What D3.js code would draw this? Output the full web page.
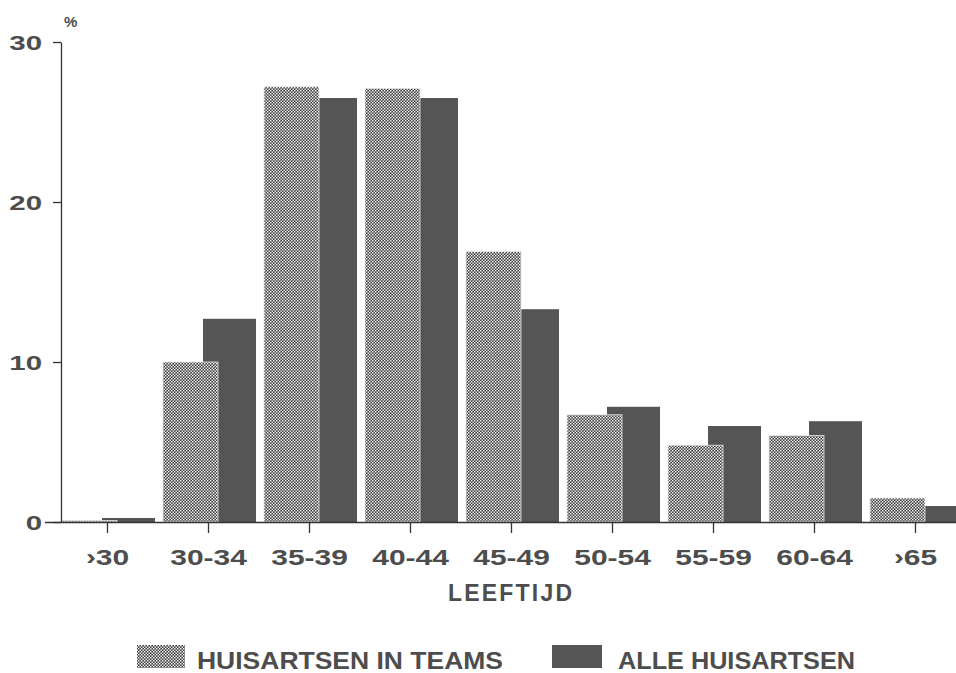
<!DOCTYPE html>
<html><head><meta charset="utf-8">
<script src="https://cdn.jsdelivr.net/npm/d3@7"></script>
<style>body{margin:0;background:#fff}svg{display:block}text{font-family:"Liberation Sans",Arial,sans-serif;font-weight:bold;fill:#4d4d4d}</style>
</head><body><svg id="c" width="956" height="673"></svg>
<script>
const categories = ["›30","30-34","35-39","40-44","45-49","50-54","55-59","60-64","›65"];
const teams = [0.1,10,27.2,27.1,16.9,6.7,4.8,5.4,1.5];
const alle = [0.25,12.7,26.5,26.5,13.3,7.2,6.0,6.3,1.0];
const yTicks = [0,10,20,30];
const seriesNames = ["HUISARTSEN IN TEAMS","ALLE HUISARTSEN"];

const svg = d3.select("#c");
const defs = svg.append("defs");
const pat = defs.append("pattern").attr("id","hatch").attr("patternUnits","userSpaceOnUse").attr("width",3).attr("height",3);
pat.append("rect").attr("width",3).attr("height",3).attr("fill","#3f3f3f");
pat.append("rect").attr("width",1.4).attr("height",1.4).attr("fill","#fff");
pat.append("rect").attr("x",1.5).attr("y",1.5).attr("width",1.4).attr("height",1.4).attr("fill","#fff");

const y = d3.scaleLinear().domain([0,30]).range([522,42]);
const x = d3.scalePoint().domain(categories).range([107,915]);
const dark = "#555";

function stretch(sel, factor){
  sel.each(function(){
    const w = this.getComputedTextLength();
    d3.select(this).attr("textLength", w*factor).attr("lengthAdjust","spacingAndGlyphs");
  });
}

// dark bars behind
svg.append("g").selectAll("rect").data(categories).join("rect")
  .attr("x",d=>x(d)-5).attr("width",53)
  .attr("y",(d,i)=>y(alle[i])).attr("height",(d,i)=>y(0)-y(alle[i]))
  .attr("fill",dark);
// hatched bars in front
svg.append("g").selectAll("rect").data(categories).join("rect")
  .attr("x",d=>x(d)-45).attr("width",55)
  .attr("y",(d,i)=>y(teams[i])).attr("height",(d,i)=>y(0)-y(teams[i]))
  .attr("fill","url(#hatch)").attr("stroke","#e6e6e6").attr("stroke-width",0.8);

// y axis
const ya = svg.append("g").attr("transform","translate(61,0)")
  .call(d3.axisLeft(y).tickValues(yTicks).tickSize(8).tickPadding(11).tickSizeOuter(0));
ya.select(".domain").attr("stroke","#333").attr("stroke-width",1.3);
ya.selectAll(".tick line").attr("stroke","#333").attr("stroke-width",1.3);
ya.selectAll(".tick text").style("font-size","21px").style("font-family","Liberation Sans, Arial, sans-serif").style("fill","#4d4d4d").attr("dy","0.36em");
stretch(ya.selectAll(".tick text"),1.4);

svg.append("text").attr("x",64).attr("y",27).style("font-size","15px").text("%");

// x axis
const xa = svg.append("g").attr("transform","translate(0,522)")
  .call(d3.axisBottom(x).tickSize(11).tickSizeOuter(0));
xa.select(".domain").attr("d","M45,0.5H956").attr("stroke","#333").attr("stroke-width",1.3);
xa.selectAll(".tick line").attr("stroke","#333").attr("stroke-width",1.3);
xa.selectAll(".tick text").attr("y",43).attr("dy",0).style("font-size","22.5px").style("font-family","Liberation Sans, Arial, sans-serif").style("fill","#4d4d4d");
stretch(xa.selectAll(".tick text"),1.33);

const lab = svg.append("text").attr("x",510).attr("y",601).attr("text-anchor","middle").style("font-size","23px").text("LEEFTIJD");
lab.attr("textLength",124).attr("lengthAdjust","spacing");

// legend
const leg = [{x:137,tx:197,tw:306,fill:"url(#hatch)",label:seriesNames[0]},{x:552,tx:618,tw:237,fill:dark,label:seriesNames[1]}];
const lg = svg.append("g").selectAll("g").data(leg).join("g");
lg.append("rect").attr("x",d=>d.x).attr("y",645).attr("width",d=>d.x===137?48:50).attr("height",23).attr("fill",d=>d.fill);
lg.append("text").attr("x",d=>d.tx).attr("y",669).style("font-size","23px")
  .attr("textLength",d=>d.tw).attr("lengthAdjust","spacingAndGlyphs").text(d=>d.label);
</script></body></html>
